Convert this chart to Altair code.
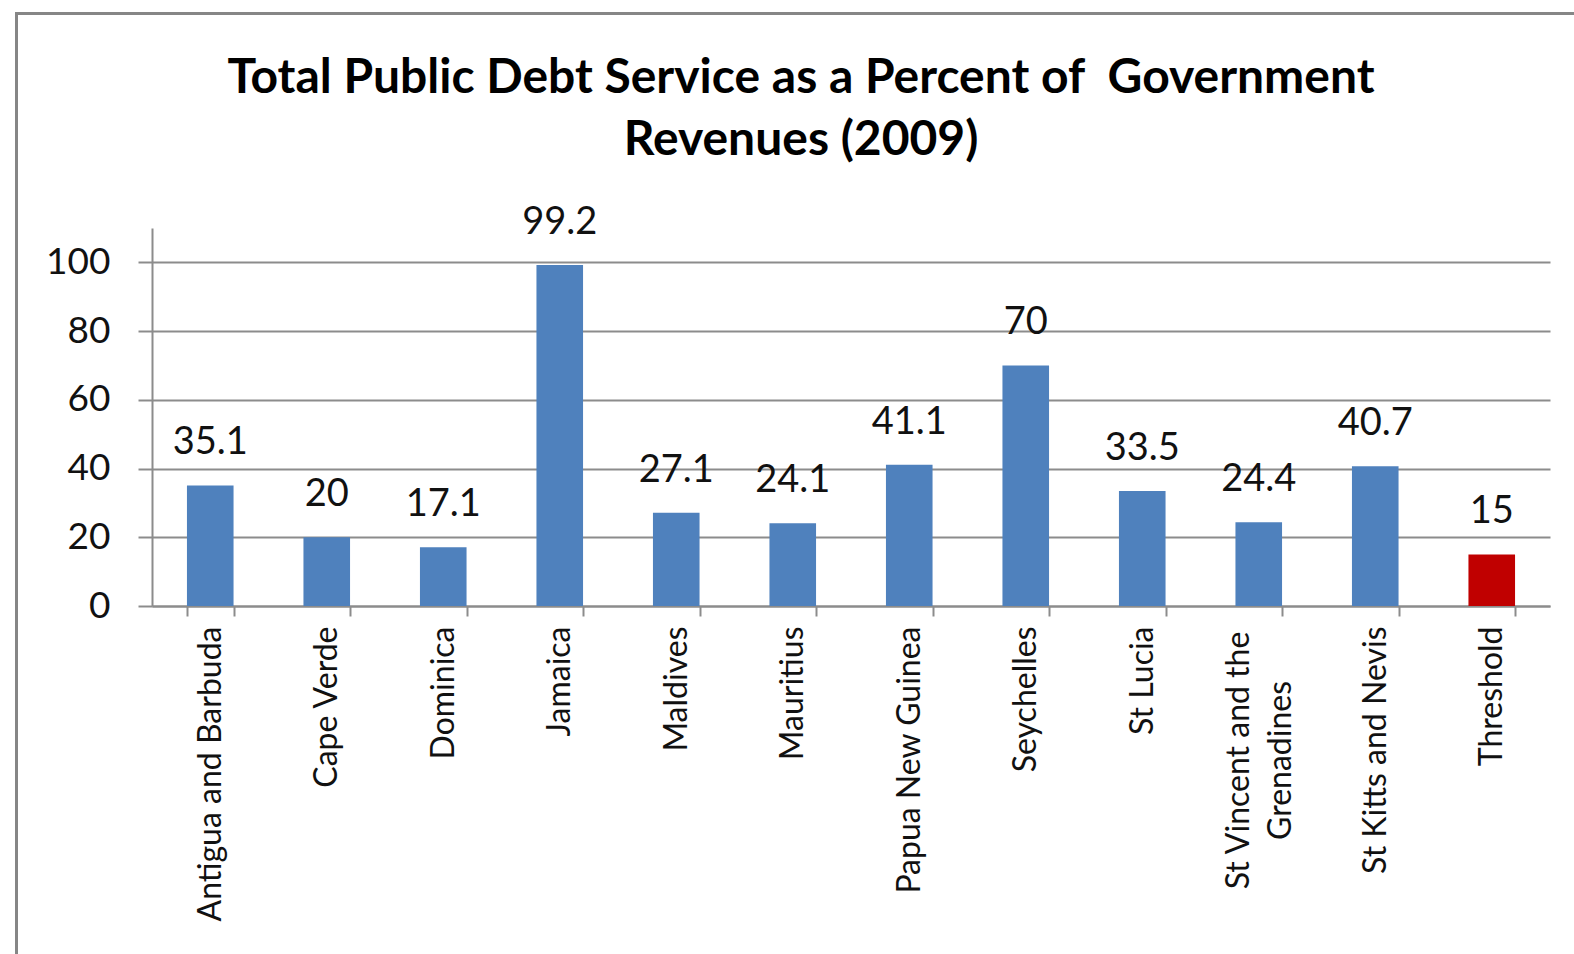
import altair as alt
import pandas as pd

countries = ["Antigua and Barbuda", "Cape Verde", "Dominica", "Jamaica", "Maldives",
             "Mauritius", "Papua New Guinea", "Seychelles", "St Lucia",
             "St Vincent and the Grenadines", "St Kitts and Nevis", "Threshold"]
values = [35.1, 20, 17.1, 99.2, 27.1, 24.1, 41.1, 70, 33.5, 24.4, 40.7, 15]
y_ticks = [0, 20, 40, 60, 80, 100]
title_lines = ["Total Public Debt Service as a Percent of\u00a0 Government", "Revenues (2009)"]

df = pd.DataFrame({"country": countries, "value": values})
FONT = "Lato"
GREY = "#8c8c8c"
WRAP_TEST = "datum.value == 'St Vincent and the Grenadines'"

x_enc = alt.X(
    "country:N", sort=countries, title="",
    scale=alt.Scale(paddingInner=0.6, paddingOuter=0.3),
    axis=alt.Axis(
        labelAngle=270, labelFont=FONT, labelFontSize=32, labelColor="#111111",
        labelPadding={"condition": {"test": WRAP_TEST, "value": 144}, "value": 10},
        labelAlign={"condition": {"test": WRAP_TEST, "value": "center"}, "value": "right"},
        labelOffset={"condition": {"test": WRAP_TEST, "value": -20}, "value": 0},
        tickSize=10, tickBand="extent", tickColor=GREY, tickWidth=2,
        domainColor=GREY, domainWidth=2, labelLineHeight=42, labelLimit=400,
        labelExpr=WRAP_TEST + " ? ['St Vincent and the', 'Grenadines'] : datum.value",
    ),
)
y_enc = alt.Y(
    "value:Q", title="",
    scale=alt.Scale(domain=[0, 110], nice=False),
    axis=alt.Axis(
        values=y_ticks, labelFont=FONT, labelFontSize=37, labelColor="#111111",
        labelPadding=28, tickSize=14, tickColor=GREY, tickWidth=2,
        domainColor=GREY, domainWidth=2, gridColor=GREY, gridWidth=2,
    ),
)

bars = alt.Chart(df).mark_bar().encode(
    x=x_enc, y=y_enc,
    color=alt.condition(alt.datum.country == "Threshold", alt.value("#C00000"), alt.value("#4F81BD")),
)
labels = alt.Chart(df).mark_text(
    font=FONT, fontSize=38, baseline="alphabetic", dy=-31, color="#111111"
).encode(x=alt.X("country:N", sort=countries), y="value:Q", text="value:Q")

frame = pd.DataFrame({"a": [0]})
left_border = alt.Chart(frame).mark_rule(color="#868686", strokeWidth=3).encode(
    x=alt.value(-135.5), y=alt.value(-214.5), y2=alt.value(726))
top_border = alt.Chart(frame).mark_rule(color="#868686", strokeWidth=3).encode(
    x=alt.value(-137), x2=alt.value(1422), y=alt.value(-214.5))

chart = alt.layer(bars, labels, left_border, top_border).properties(
    width=1398, height=378, background="white",
    title=alt.TitleParams(title_lines, font=FONT, fontSize=48, fontWeight="bold",
                          color="#000000", lineHeight=62, dx=-50, offset=-153,
                          anchor="middle", frame="group"),
    autosize=alt.AutoSizeParams(type="none"),
    padding={"left": 152, "top": 228, "right": 24, "bottom": 348},
).configure_view(stroke=None)

chart.save("out.html", embed_options={"renderer": "svg", "actions": False})
